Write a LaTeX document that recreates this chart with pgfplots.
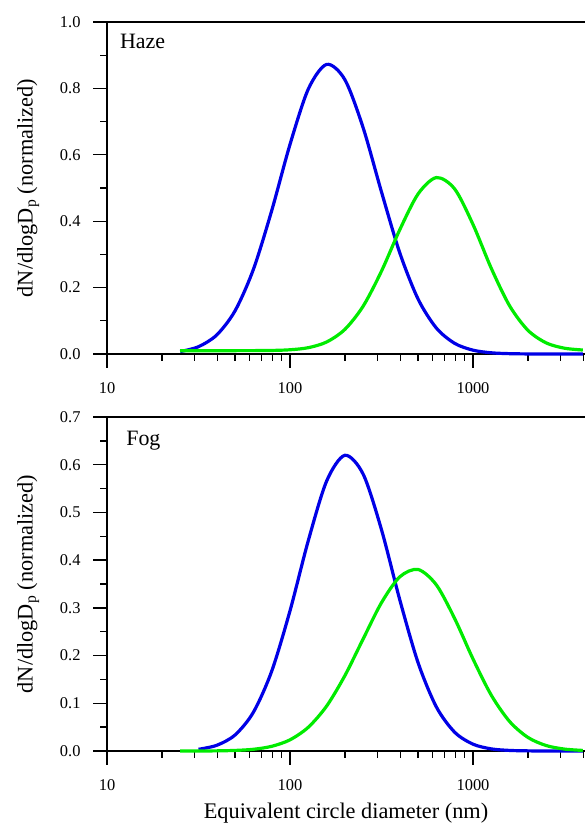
\documentclass[border=0pt]{standalone}
\usepackage{fontspec}
\setmainfont{Liberation Serif}
\usepackage{pgfplots}
\pgfplotsset{compat=1.18}
\definecolor{cblue}{RGB}{0,0,230}
\definecolor{cgreen}{RGB}{0,235,0}
\begin{document}
\begin{tikzpicture}
\useasboundingbox (0,0) rectangle (585bp,827bp);
\begin{axis}[scale only axis, width=478bp, height=332bp, at={(107bp,473bp)}, anchor=south west,
  xmode=log, xmin=10, xmax=4093, ymin=0, ymax=1,
  axis x line=box, axis y line=left,
  axis line style={-, line width=1.3bp, black},
  tick pos=left, tick align=outside,
  major tick length=14bp, minor tick length=7bp,
  every tick/.append style={black, line width=1.3bp},
  xtick={10,100,1000}, xticklabels={10,100,1000},
  minor xtick={20,30,40,50,60,70,80,90,200,300,400,500,600,700,800,900,2000,3000,4000},
  ytick={0,0.2,0.4,0.6,0.8,1.0}, minor ytick={0.1,0.3,0.5,0.7,0.9},
  yticklabel={\pgfmathprintnumber[fixed,fixed zerofill,precision=1]{\tick}},
  tick label style={font=\fontsize{16.5}{18}\selectfont},
  x tick label style={yshift=-11bp},
  y tick label style={xshift=-9bp},
  /pgf/number format/assume math mode=true,
  clip=false,
  ylabel={dN/dlogD\textsubscript{p} (normalized)},
  every axis y label/.style={at={(axis description cs:-0.165,0.5)}, rotate=90, anchor=center, font=\fontsize{22.4}{26}\selectfont}]
\addplot[cblue, line width=3.2bp, smooth, no markers] coordinates {
(25.12,0.0073)(31.62,0.0220)(39.81,0.0575)(50.12,0.1303)(63.10,0.2550)(79.43,0.4316)(100,0.6312)(125.9,0.7980)(158.5,0.8722)(199.5,0.8262)(251.2,0.6808)(316.2,0.4881)(398.1,0.3045)(501.2,0.1653)(631.0,0.0780)(794.3,0.0320)(1000,0.0115)(1259,0.0036)(1585,0.0010)(1995,0.0002)(2512,0)(3162,0)(3981,0)};
\addplot[cgreen, line width=3.2bp, smooth, no markers] coordinates {
(25.12,0.0100)(39.81,0.0100)(63.10,0.0102)(79.43,0.0107)(100,0.0127)(125.9,0.0190)(158.5,0.0361)(199.5,0.0741)(251.2,0.1443)(316.2,0.2496)(398.1,0.3744)(501.2,0.4821)(631.0,0.5314)(794.3,0.4970)(1000,0.3901)(1259,0.2579)(1585,0.1451)(1995,0.0715)(2512,0.0334)(3162,0.0174)(3981,0.0120)};
\node[anchor=west, inner sep=0pt, font=\fontsize{22}{26}\selectfont] at (rel axis cs:0.027,0.94) {Haze};
\end{axis}
\begin{axis}[scale only axis, width=478bp, height=334bp, at={(107bp,76bp)}, anchor=south west,
  xmode=log, xmin=10, xmax=4093, ymin=0, ymax=0.7,
  axis x line=box, axis y line=left,
  axis line style={-, line width=1.3bp, black},
  tick pos=left, tick align=outside,
  major tick length=14bp, minor tick length=7bp,
  every tick/.append style={black, line width=1.3bp},
  xtick={10,100,1000}, xticklabels={10,100,1000},
  minor xtick={20,30,40,50,60,70,80,90,200,300,400,500,600,700,800,900,2000,3000,4000},
  ytick={0,0.1,0.2,0.3,0.4,0.5,0.6,0.7}, minor ytick={0.05,0.15,0.25,0.35,0.45,0.55,0.65},
  yticklabel={\pgfmathprintnumber[fixed,fixed zerofill,precision=1]{\tick}},
  tick label style={font=\fontsize{16.5}{18}\selectfont},
  x tick label style={yshift=-11bp},
  y tick label style={xshift=-9bp},
  /pgf/number format/assume math mode=true,
  clip=false,
  ylabel={dN/dlogD\textsubscript{p} (normalized)},
  every axis y label/.style={at={(axis description cs:-0.165,0.5)}, rotate=90, anchor=center, font=\fontsize{22.4}{26}\selectfont},
  xlabel={Equivalent circle diameter (nm)},
  every axis x label/.style={at={(axis description cs:0.5,-0.185)}, anchor=center, font=\fontsize{22.4}{26}\selectfont}]
\addplot[cblue, line width=3.2bp, smooth, no markers] coordinates {
(31.62,0.0036)(39.81,0.0120)(50.12,0.0337)(63.10,0.0813)(79.43,0.1672)(100,0.2938)(125.9,0.4410)(158.5,0.5656)(199.5,0.6197)(251.2,0.5800)(316.2,0.4638)(398.1,0.3168)(501.2,0.1849)(631.0,0.0922)(794.3,0.0393)(1000,0.0143)(1259,0.0044)(1585,0.0012)(1995,0.0003)(2512,0)(3162,0)(3981,0)};
\addplot[cgreen, line width=3.2bp, smooth, no markers] coordinates {
(25.12,0.0000)(31.62,0.0001)(39.81,0.0003)(50.12,0.0012)(63.10,0.0036)(79.43,0.0098)(100,0.0234)(125.9,0.0498)(158.5,0.0941)(199.5,0.1579)(251.2,0.2351)(316.2,0.3109)(398.1,0.3650)(501.2,0.3804)(631.0,0.3480)(794.3,0.2775)(1000,0.1929)(1259,0.1169)(1585,0.0618)(1995,0.0285)(2512,0.0114)(3162,0.0040)(3981,0.0012)};
\node[anchor=west, inner sep=0pt, font=\fontsize{22}{26}\selectfont] at (rel axis cs:0.04,0.928) {Fog};
\end{axis}
\end{tikzpicture}
\end{document}
